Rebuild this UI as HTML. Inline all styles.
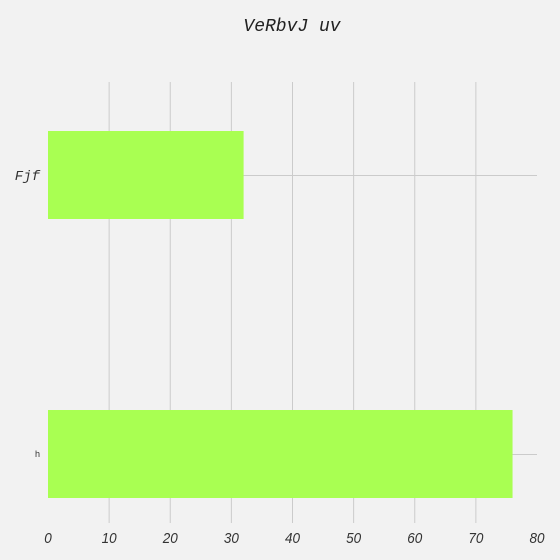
<!DOCTYPE html>
<html><head><style>
body{margin:0;background:#f2f2f2;}
svg{display:block;}
</style></head><body>
<svg id="chart" width="560" height="560" xmlns="http://www.w3.org/2000/svg">
<rect width="560" height="560" fill="#f2f2f2"/>
<text x="292" y="31" text-anchor="middle" font-family="'Liberation Mono', monospace" font-style="italic" font-size="18" fill="#222">VeRbvJ uv</text>
<g id="grid"></g><g id="bars"></g><g id="labels"></g>
</svg>
<script>
const categories = ["Fjf", "h"];
const values = [32, 76];
const xTicks = [0, 10, 20, 30, 40, 50, 60, 70, 80];
const NS = "http://www.w3.org/2000/svg";
const x0 = 48, x1 = 537, xMax = 80;
const xs = v => x0 + (v / xMax) * (x1 - x0);
const centers = [175, 454];
const ys = i => centers[0] + i * (centers[1] - centers[0]);
const barH = 88;
const grid = document.getElementById('grid');
const bars = document.getElementById('bars');
const labels = document.getElementById('labels');
function mk(tag, attrs, parent){const e=document.createElementNS(NS,tag);for(const k in attrs)e.setAttribute(k,attrs[k]);parent.appendChild(e);return e;}
xTicks.forEach(t => {
  if (t > 0 && t < xMax) {
    const l = mk('line', {x1: xs(t), x2: xs(t), y1: 82, y2: 523, stroke: '#cbcbcb', 'stroke-width': 1}, grid);
    
    
  }
  const tx = mk('text', {x: xs(t), y: 543, 'text-anchor': 'middle', 'font-family': "'Liberation Sans', sans-serif", 'font-style': 'italic', 'font-size': 15, fill: '#333', transform: 'translate(' + xs(t) + ',0) scale(0.9,1) translate(' + (-xs(t)) + ',0)'}, labels);
  tx.textContent = t;
  
  
});
categories.forEach((c, i) => {
  const gl = mk('line', {x1: x0, x2: x1, y1: ys(i) + 0.5, y2: ys(i) + 0.5, stroke: '#cbcbcb', 'stroke-width': 1}, grid);
  
  
  const r = mk('rect', {x: x0, y: ys(i) - barH / 2, width: xs(values[i]) - x0, height: barH, fill: '#a9ff52'}, bars);
  
  
  const big = i === 0;
  const t = mk('text', {x: 40, y: ys(i) + (big ? 5 : 3), 'text-anchor': 'end', 'font-family': big ? "'Liberation Mono', monospace" : "'Liberation Sans', sans-serif", 'font-style': big ? 'italic' : 'normal', 'font-size': big ? 14 : 9, fill: '#333'}, labels);
  t.textContent = c;
  
  
});
</script>
</body></html>
